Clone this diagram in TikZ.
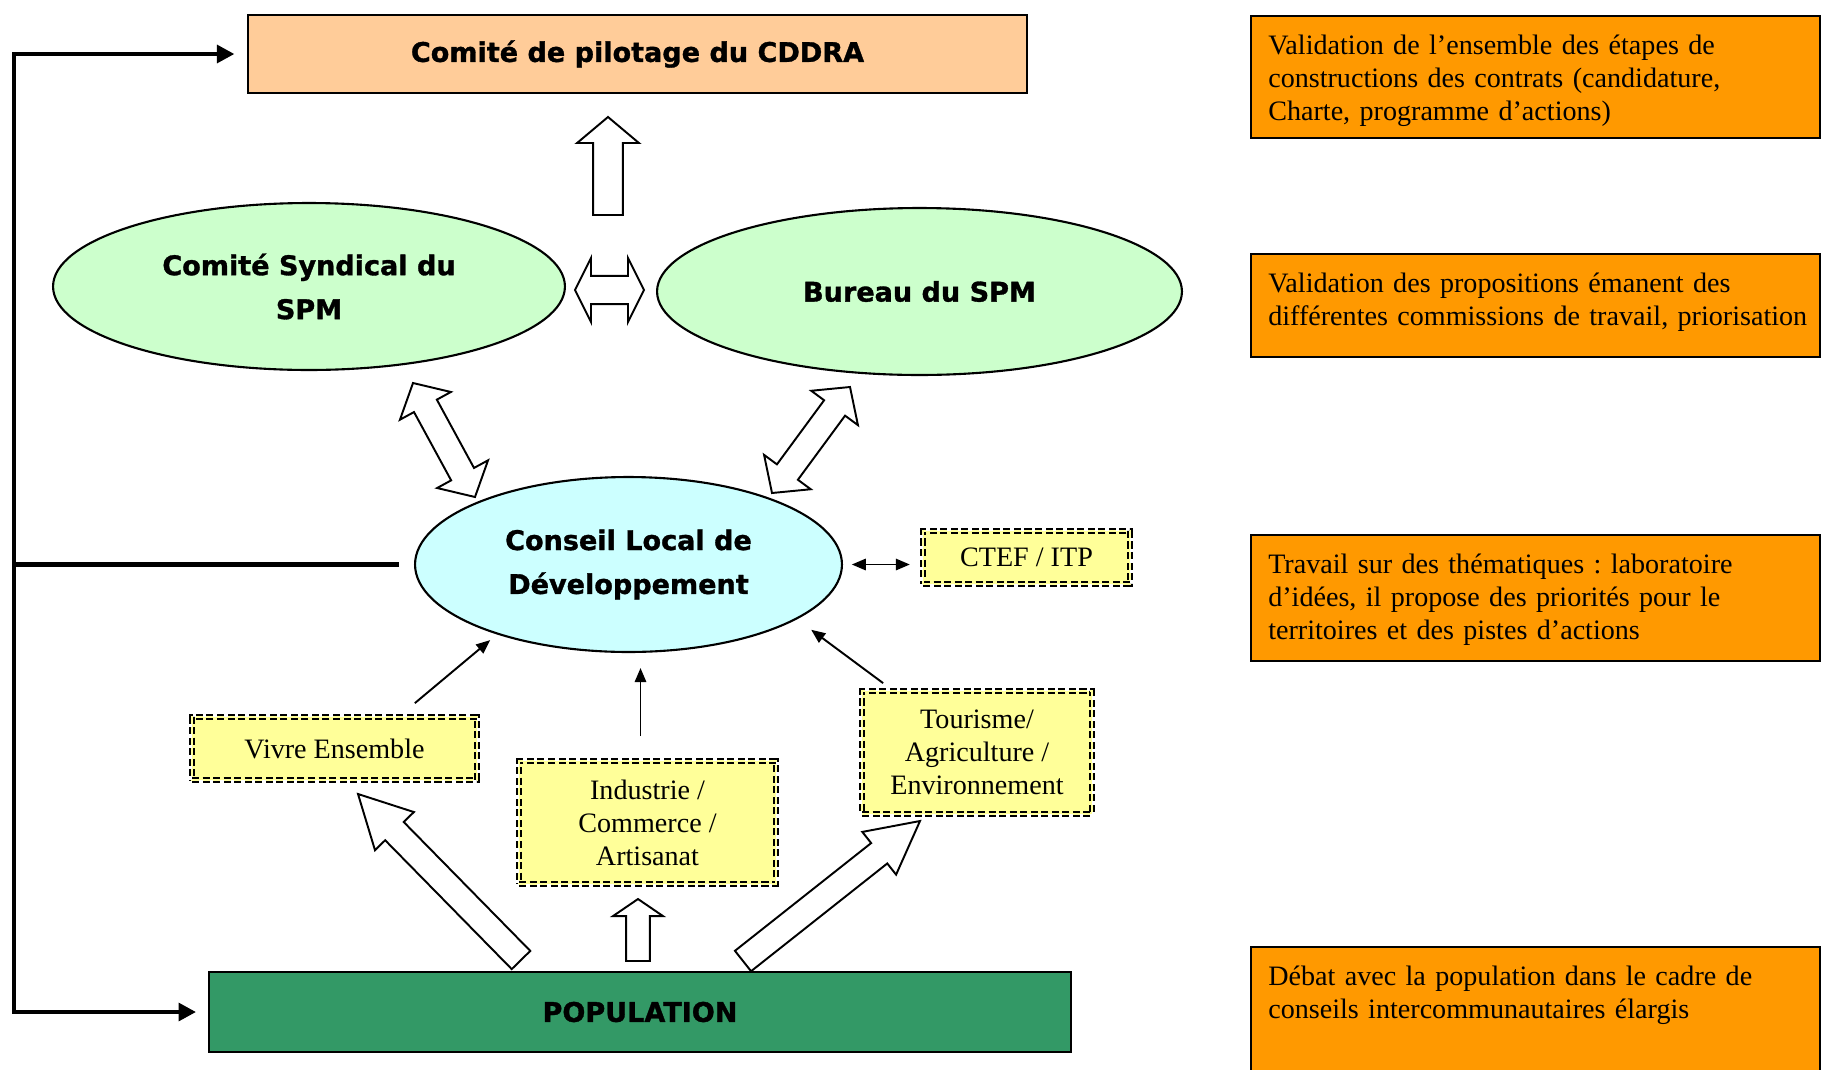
\documentclass[tikz,border=0pt]{standalone}
\usepackage{fontspec}
\setmainfont{Liberation Serif}
\newfontfamily\headfont{DejaVu Sans}[BoldFeatures={FakeBold=1.2}]
\usepackage{tikz}
\usetikzlibrary{shapes, arrows.meta, calc}
\usepackage{xcolor}

\definecolor{pilotfill}{HTML}{FFCC99}
\definecolor{spmfill}{HTML}{CCFFCC}
\definecolor{cldfill}{HTML}{CCFFFF}
\definecolor{themefill}{HTML}{FFFF99}
\definecolor{notefill}{HTML}{FF9900}
\definecolor{popfill}{HTML}{339966}

\newcommand{\headtext}{\headfont\bfseries\fontsize{15.4}{25}\selectfont}
\newcommand{\bodytext}{\frenchspacing\fontsize{16}{18.8}\selectfont}

% hollow arrows: tail, tip, half shaft, half head, head length
\newcommand{\hollowarrow}[5]{%
  \draw[block] ($(#1)!#3!90:(#2)$)
    -- ($(#2)!#5!(#1)!#3!90:(#2)$)
    -- ($(#2)!#5!(#1)!#4!90:(#2)$)
    -- (#2)
    -- ($(#2)!#5!(#1)!#4!-90:(#2)$)
    -- ($(#2)!#5!(#1)!#3!-90:(#2)$)
    -- ($(#1)!#3!-90:(#2)$) -- cycle;}
\newcommand{\hollowdouble}[5]{%
  \draw[block] (#1)
    -- ($(#1)!#5!(#2)!#4!90:(#2)$)
    -- ($(#1)!#5!(#2)!#3!90:(#2)$)
    -- ($(#2)!#5!(#1)!#3!90:(#2)$)
    -- ($(#2)!#5!(#1)!#4!90:(#2)$)
    -- (#2)
    -- ($(#2)!#5!(#1)!#4!-90:(#2)$)
    -- ($(#2)!#5!(#1)!#3!-90:(#2)$)
    -- ($(#1)!#5!(#2)!#3!-90:(#2)$)
    -- ($(#1)!#5!(#2)!#4!-90:(#2)$)
    -- cycle;}

\begin{document}
\begin{tikzpicture}[x=0.02cm, y=-0.02cm]
    \useasboundingbox (0,0) rectangle (1825,1069);

    % Define styles for the different layers
    \tikzstyle{headbox} = [draw, rectangle, line width=1.5pt, font=\headtext]
    \tikzstyle{council} = [draw, ellipse, line width=1.2pt, inner sep=0pt, align=center, font=\headtext]
    \tikzstyle{theme} = [draw, rectangle, fill=themefill, line width=1pt, double=themefill, double distance=1pt, dash pattern=on 4pt off 2pt, align=center, font=\bodytext]
    \tikzstyle{note} = [draw, fill=notefill, line width=1.4pt, anchor=north west, text width=10.7cm, align=left, inner xsep=9.7pt, inner ysep=0pt, text height=0.76cm, font=\bodytext]
    \tikzstyle{link} = [line width=1.1pt, -{Triangle[length=8pt, width=6.5pt]}]
    \tikzstyle{rail} = [line width=2.6pt]
    \tikzstyle{block} = [draw, fill=white, line width=1.1pt, line join=miter]

    \node (pilotage) [headbox, fill=pilotfill, minimum width=15.58cm, minimum height=1.56cm] at (637.5,54) {Comité de pilotage du CDDRA};
    \node (syndical) [council, fill=spmfill, minimum width=10.24cm, minimum height=3.34cm] at (309,286.5) {Comité Syndical du\\SPM};
    \node (bureau) [council, fill=spmfill, minimum width=10.5cm, minimum height=3.34cm] at (919.5,291.5) {Bureau du SPM};
    \node (conseil) [council, fill=cldfill, minimum width=8.54cm, minimum height=3.5cm] at (628.5,564.5) {Conseil Local de\\Développement};
    \node (ctef) [theme, minimum width=4.14cm, minimum height=1.06cm] at (1026.5,557.5) {CTEF / ITP};
    \node (vivre) [theme, minimum width=5.7cm, minimum height=1.26cm] at (334.5,748.5) {Vivre Ensemble};
    \node (industrie) [theme, minimum width=5.14cm, minimum height=2.46cm] at (647.5,822.5) {Industrie /\\Commerce /\\Artisanat};
    \node (tourisme) [theme, minimum width=4.6cm, minimum height=2.46cm] at (977,752.5) {Tourisme/\\Agriculture /\\Environnement};
    \node (population) [headbox, fill=popfill, line width=0.8pt, minimum width=17.24cm, minimum height=1.6cm] at (640,1012) {POPULATION};

    % notes on the right
    \node (note_pilotage) [note, text depth=1.68cm] at (1250,15) {Validation de l’ensemble des étapes de\\constructions des contrats (candidature,\\Charte, programme d’actions)};
    \node (note_spm) [note, text depth=1.30cm] at (1250,253) {Validation des propositions émanent des\\\mbox{différentes commissions de travail, priorisation}};
    \node (note_conseil) [note, text depth=1.76cm] at (1250,534) {Travail sur des thématiques : laboratoire\\d’idées, il propose des priorités pour le\\territoires et des pistes d’actions};
    \node (note_population) [note, text depth=3cm] at (1250,946) {Débat avec la population dans le cadre de\\conseils intercommunautaires élargis};

    % ends of the hollow arrows
    \coordinate (up_from) at (608,215);
    \coordinate (up_to) at (608,117);
    \coordinate (spm_l) at (575,290);
    \coordinate (spm_r) at (644,290);
    \coordinate (syn_end) at (413,383);
    \coordinate (cld_end_l) at (475,497);
    \coordinate (bur_end) at (850,387);
    \coordinate (cld_end_r) at (772,493);
    \coordinate (pop_l) at (521,960);
    \coordinate (vivre_end) at (358,794);
    \coordinate (pop_m) at (638,961);
    \coordinate (ind_end) at (638,899);
    \coordinate (pop_r) at (743,961);
    \coordinate (tour_end) at (920,821);
    \coordinate (rail) at (14,564.5);

    \hollowarrow{up_from}{up_to}{8.5pt}{17.6pt}{14.8pt}
    \hollowdouble{spm_l}{spm_r}{8pt}{18.2pt}{9.1pt}
    \hollowdouble{syn_end}{cld_end_l}{7.4pt}{16.5pt}{14.8pt}
    \hollowdouble{bur_end}{cld_end_r}{7.4pt}{16.5pt}{14.8pt}
    \hollowarrow{pop_l}{vivre_end}{7.4pt}{15.5pt}{29.6pt}
    \hollowarrow{pop_m}{ind_end}{6.8pt}{14.2pt}{9.7pt}
    \hollowarrow{pop_r}{tour_end}{7.4pt}{15.5pt}{29.6pt}

    \draw[link, shorten >=5pt] ($(vivre.north east)+(-63,-13)$) -- (conseil.208);
    \draw[link] ($(industrie.north)+(-7,-24)$) -- ($(industrie.north |- conseil.south)+(-7,15)$);
    \draw[link, shorten >=10pt] ($(tourisme.north west)+(22,-7)$) -- (conseil.-18);
    \draw[link, {Triangle[length=8pt, width=6.5pt]}-{Triangle[length=8pt, width=6.5pt]}, shorten <=5pt, shorten >=7pt] (conseil.east) -- (conseil.east -| ctef.west);

    \draw[rail, -{Triangle[length=10pt, width=10pt]}, shorten >=7pt] (rail) |- (pilotage.west);
    \draw[rail, -{Triangle[length=10pt, width=10pt]}, shorten >=7pt] (rail) |- (population.west);
    \draw[rail, shorten >=8.5pt] (rail) -- (conseil.west);

\end{tikzpicture}
\end{document}
